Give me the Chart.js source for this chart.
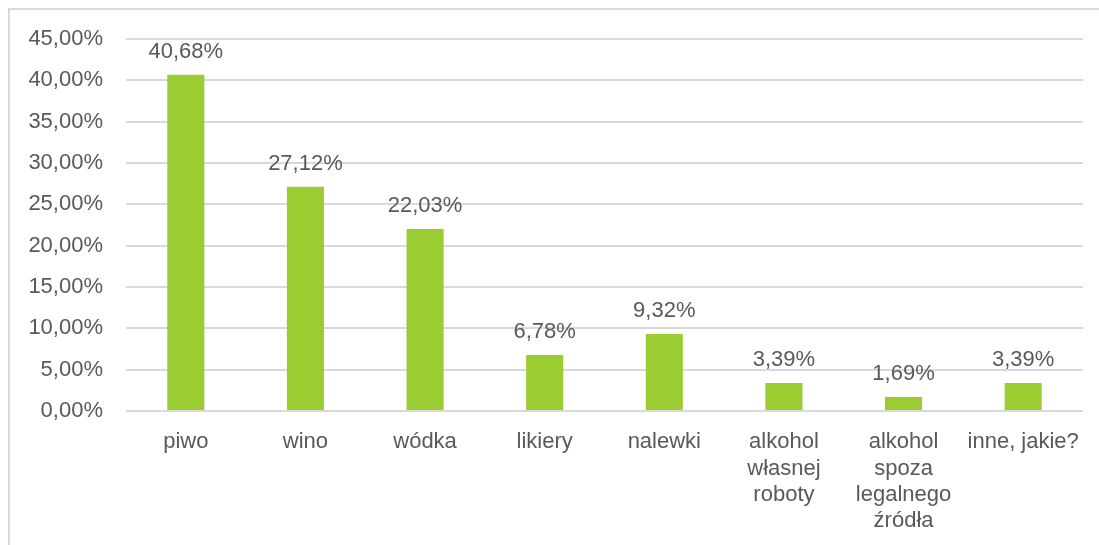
<!DOCTYPE html>
<html>
<head>
<meta charset="utf-8">
<script src="https://cdn.jsdelivr.net/npm/chart.js@4/dist/chart.umd.min.js"></script>
<style>
html,body{margin:0;padding:0;background:#fff;}
#wrap{position:relative;width:1099px;height:545px;}
</style>
</head>
<body>
<div id="wrap"><canvas id="c" width="1099" height="545"></canvas></div>
<script>
const categories = ['piwo', 'wino', 'wódka', 'likiery', 'nalewki',
  ['alkohol', 'własnej', 'roboty'], ['alkohol', 'spoza', 'legalnego', 'źródła'], 'inne, jakie?'];
const values = [40.68, 27.12, 22.03, 6.78, 9.32, 3.39, 1.69, 3.39];
const yTicks = [0, 5, 10, 15, 20, 25, 30, 35, 40, 45];

const FONT = "'Liberation Sans', Arial, sans-serif";
const TEXT = '#595959';
const fmt = v => v.toFixed(2).replace('.', ',') + '%';

const frame = {
  id: 'frame',
  beforeDraw(chart) {
    const ctx = chart.ctx;
    ctx.save();
    ctx.strokeStyle = '#d9d9d9';
    ctx.lineWidth = 2;
    ctx.beginPath();
    ctx.moveTo(9, 545);
    ctx.lineTo(9, 9);
    ctx.lineTo(1099, 9);
    ctx.stroke();
    ctx.restore();
  }
};

const labelsPlugin = {
  id: 'valueLabels',
  afterDatasetsDraw(chart) {
    const ctx = chart.ctx;
    const meta = chart.getDatasetMeta(0);
    ctx.save();
    ctx.font = '22px ' + FONT;
    ctx.fillStyle = TEXT;
    ctx.textAlign = 'center';
    ctx.textBaseline = 'alphabetic';
    meta.data.forEach((bar, i) => {
      ctx.fillText(fmt(values[i]), bar.x, bar.y - 17);
    });
    ctx.restore();
  }
};

new Chart(document.getElementById('c'), {
  type: 'bar',
  data: {
    labels: categories,
    datasets: [{
      data: values,
      backgroundColor: '#9acd32',
      borderWidth: 0,
      barPercentage: 0.62,
      categoryPercentage: 0.5
    }]
  },
  options: {
    responsive: false,
    animation: false,
    devicePixelRatio: 1,
    layout: { padding: { left: 0, right: 16, top: 39, bottom: 0 } },
    plugins: { legend: { display: false }, tooltip: { enabled: false } },
    scales: {
      x: {
        grid: { display: false, drawTicks: false },
        border: { display: false },
        ticks: {
          color: TEXT,
          font: { family: FONT, size: 22, lineHeight: 1.2 },
          padding: 18,
          maxRotation: 0,
          autoSkip: false
        },
        afterFit(s) { s.height = 134; }
      },
      y: {
        min: 0,
        max: 45,
        afterBuildTicks(s) { s.ticks = yTicks.map(v => ({ value: v })); },
        grid: { color: '#d9d9d9', lineWidth: 2, drawTicks: false },
        border: { display: false },
        ticks: {
          color: TEXT,
          font: { family: FONT, size: 22 },
          padding: 23,
          callback: v => fmt(v)
        },
        afterFit(s) { s.width = 126; }
      }
    }
  },
  plugins: [frame, labelsPlugin]
});
</script>
</body>
</html>
